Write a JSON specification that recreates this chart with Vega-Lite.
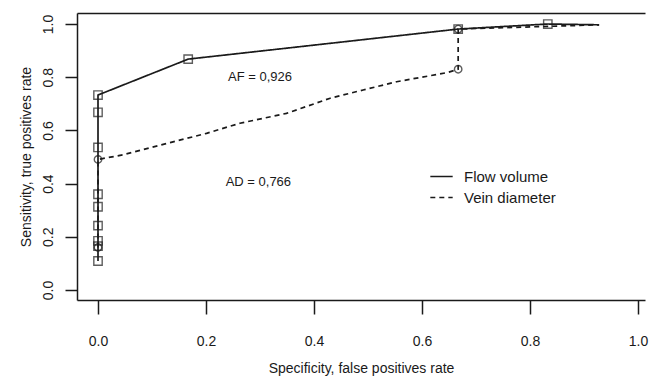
{
  "$schema": "https://vega.github.io/schema/vega-lite/v6.json",
  "width": 568,
  "height": 287,
  "autosize": "none",
  "padding": {"left": 77, "top": 13, "right": 9, "bottom": 78},
  "background": "white",
  "config": {"view": {"stroke": null}, "font": "Liberation Sans"},
  "data": {
    "values": [
      {"series": "Flow volume", "i": 1, "x": 0, "y": 0.109, "m": true},
      {"series": "Flow volume", "i": 2, "x": 0, "y": 0.165, "m": true},
      {"series": "Flow volume", "i": 3, "x": 0, "y": 0.185, "m": true},
      {"series": "Flow volume", "i": 4, "x": 0, "y": 0.242, "m": true},
      {"series": "Flow volume", "i": 5, "x": 0, "y": 0.313, "m": true},
      {"series": "Flow volume", "i": 6, "x": 0, "y": 0.36, "m": true},
      {"series": "Flow volume", "i": 7, "x": 0, "y": 0.536, "m": true},
      {"series": "Flow volume", "i": 8, "x": 0, "y": 0.668, "m": true},
      {"series": "Flow volume", "i": 9, "x": 0, "y": 0.733, "m": true},
      {"series": "Flow volume", "i": 10, "x": 0.167, "y": 0.868, "m": true},
      {"series": "Flow volume", "i": 11, "x": 0.667, "y": 0.981, "m": true},
      {"series": "Flow volume", "i": 12, "x": 0.833, "y": 1.0, "m": true},
      {"series": "Flow volume", "i": 13, "x": 0.928, "y": 0.997, "m": false},
      {"series": "Vein diameter", "i": 1, "x": 0, "y": 0.16, "m": true},
      {"series": "Vein diameter", "i": 2, "x": 0, "y": 0.491, "m": true},
      {"series": "Vein diameter", "i": 3, "x": 0.046, "y": 0.508, "m": false},
      {"series": "Vein diameter", "i": 4, "x": 0.139, "y": 0.557, "m": false},
      {"series": "Vein diameter", "i": 5, "x": 0.201, "y": 0.589, "m": false},
      {"series": "Vein diameter", "i": 6, "x": 0.263, "y": 0.627, "m": false},
      {"series": "Vein diameter", "i": 7, "x": 0.349, "y": 0.664, "m": false},
      {"series": "Vein diameter", "i": 8, "x": 0.43, "y": 0.721, "m": false},
      {"series": "Vein diameter", "i": 9, "x": 0.491, "y": 0.752, "m": false},
      {"series": "Vein diameter", "i": 10, "x": 0.553, "y": 0.783, "m": false},
      {"series": "Vein diameter", "i": 11, "x": 0.646, "y": 0.817, "m": false},
      {"series": "Vein diameter", "i": 12, "x": 0.667, "y": 0.83, "m": true},
      {"series": "Vein diameter", "i": 13, "x": 0.667, "y": 0.981, "m": true},
      {"series": "Vein diameter", "i": 14, "x": 0.928, "y": 0.997, "m": false}
    ]
  },
  "layer": [
    {
      "mark": {"type": "line", "strokeWidth": 1.7, "color": "#1a1a1a"},
      "encoding": {
        "x": {
          "field": "x", "type": "quantitative",
          "scale": {"domain": [-0.0389, 1.013], "nice": false, "zero": false},
          "axis": {
            "orient": "bottom", "values": [0, 0.2, 0.4, 0.6, 0.8, 1], "format": ".1f",
            "title": "Specificity, false positives rate", "grid": false,
            "domain": true, "domainColor": "#1a1a1a", "domainWidth": 1.5,
            "tickColor": "#1a1a1a", "tickWidth": 1.5, "tickSize": 14,
            "labelPadding": 20, "labelFontSize": 14, "labelColor": "#1a1a1a", "labelFlush": false,
            "titleFontSize": 14, "titleFontWeight": "normal", "titleColor": "#1a1a1a", "titlePadding": 13
          }
        },
        "y": {
          "field": "y", "type": "quantitative",
          "scale": {"domain": [-0.0376, 1.0414], "nice": false, "zero": false},
          "axis": {
            "values": [0, 0.2, 0.4, 0.6, 0.8, 1], "format": ".1f",
            "title": "Sensitivity, true positives rate", "grid": false,
            "domain": true, "domainColor": "#1a1a1a", "domainWidth": 1.5,
            "tickColor": "#1a1a1a", "tickWidth": 1.5, "tickSize": 12,
            "labelAngle": 270, "labelAlign": "center", "labelBaseline": "bottom",
            "labelPadding": 10, "labelFontSize": 14, "labelColor": "#1a1a1a", "labelFlush": false,
            "titleFontSize": 14, "titleFontWeight": "normal", "titleColor": "#1a1a1a", "titlePadding": 8
          }
        },
        "order": {"field": "i", "type": "quantitative"},
        "strokeDash": {
          "field": "series", "type": "nominal",
          "scale": {"domain": ["Flow volume", "Vein diameter"], "range": [[1, 0], [5, 4]]},
          "legend": {
            "orient": "none", "legendX": 352, "legendY": 151, "title": null,
            "symbolType": "stroke", "symbolSize": 500, "symbolStrokeWidth": 1.7,
            "symbolStrokeColor": "#1a1a1a", "labelFontSize": 15, "labelColor": "#1a1a1a",
            "labelOffset": 10, "rowPadding": 0, "padding": 0
          }
        }
      }
    },
    {
      "transform": [{"filter": "datum.m && datum.series == 'Flow volume'"}],
      "mark": {"type": "point", "shape": "square", "filled": false, "size": 70, "stroke": "#1a1a1a", "strokeWidth": 1.4},
      "encoding": {
        "x": {"field": "x", "type": "quantitative", "axis": null},
        "y": {"field": "y", "type": "quantitative"}
      }
    },
    {
      "transform": [{"filter": "datum.m && datum.series == 'Vein diameter'"}],
      "mark": {"type": "point", "shape": "circle", "filled": false, "size": 55, "stroke": "#1a1a1a", "strokeWidth": 1.4},
      "encoding": {
        "x": {"field": "x", "type": "quantitative", "axis": {"orient": "top", "title": null, "labels": false, "ticks": false, "grid": false, "domain": true, "domainColor": "#1a1a1a", "domainWidth": 1.5}},
        "y": {"field": "y", "type": "quantitative"}
      }
    },
    {
      "data": {"values": [
        {"x": 0.3, "y": 0.8, "label": "AF = 0,926"},
        {"x": 0.297, "y": 0.406, "label": "AD = 0,766"}
      ]},
      "mark": {"type": "text", "fontSize": 13, "color": "#1a1a1a", "align": "center", "baseline": "middle"},
      "encoding": {
        "x": {"field": "x", "type": "quantitative", "axis": null},
        "y": {"field": "y", "type": "quantitative"},
        "text": {"field": "label"}
      }
    }
  ],
  "resolve": {"axis": {"x": "independent"}}
}
